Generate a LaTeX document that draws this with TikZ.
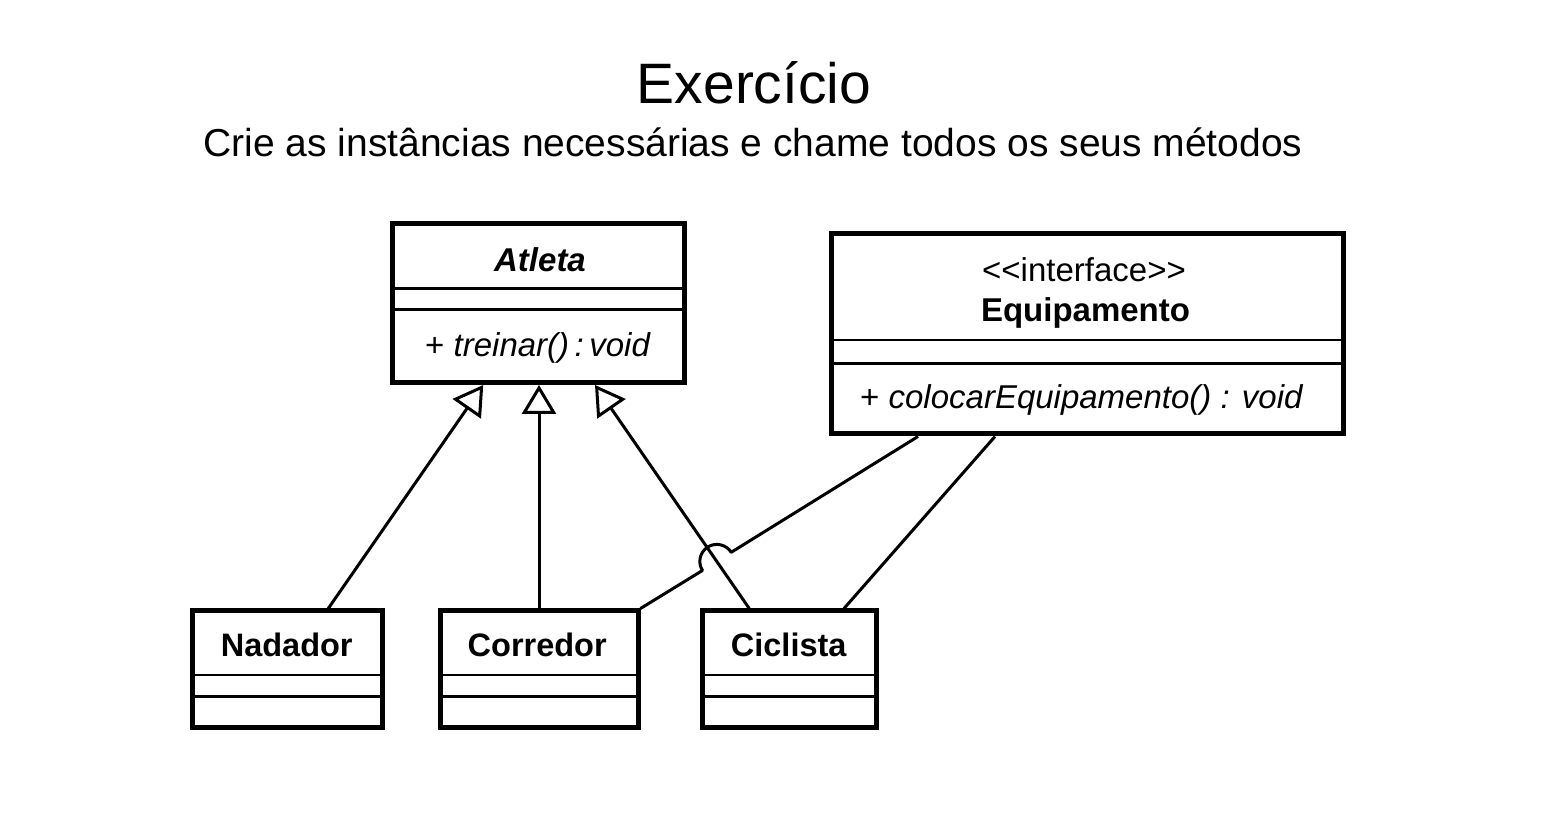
\documentclass[tikz,border=0pt]{standalone}
\usepackage{fontspec}
\setmainfont{Liberation Sans}
\usetikzlibrary{arrows.meta,calc}
\begin{document}
\begin{tikzpicture}[x=1pt,y=1pt,
  cls/.style={draw, line width=5pt, inner sep=0pt, fill=white},
  comp/.style={line width=2.5pt},
  conn/.style={line width=3pt, line join=round},
  gen/.style={conn, -{Triangle[open,fill=white,length=29pt,width=34pt]}},
  uml/.style={font=\fontsize{33}{36}\selectfont, inner sep=0pt, anchor=base},
  low/.style={font=\fontsize{32.5}{36}\selectfont\bfseries, inner sep=0pt, anchor=base},
]
\useasboundingbox[fill=white] (0,0) rectangle (1563,816);

% titles
\node[inner sep=0pt, anchor=base, font=\fontsize{57}{60}\selectfont] (title) at (754,712) {Exercício};
\node[inner sep=0pt, anchor=base, font=\fontsize{39}{42}\selectfont] (sub) at (753,659) {Crie as instâncias necessárias e chame todos os seus métodos};

% class boxes
\node[cls, minimum width=291.5pt, minimum height=158.5pt] (atleta) at (538.25,512.75) {};
\node[cls, minimum width=512pt, minimum height=200pt] (equip) at (1087,482) {};
\node[cls, minimum width=190.5pt, minimum height=116.5pt] (nadador) at (287.25,146.75) {};
\node[cls, minimum width=198pt, minimum height=116.5pt] (corredor) at (539,146.75) {};
\node[cls, minimum width=173.5pt, minimum height=116.5pt] (ciclista) at (789.25,146.75) {};

% compartments
\foreach \n/\a/\b in {atleta/66.8/87.8, equip/108.5/131.8, nadador/66.5/88.2, corredor/66.5/88.2, ciclista/66.5/88.2}{
  \draw[comp] ([yshift=-\a pt]\n.north west) -- ([yshift=-\a pt]\n.north east);
  \draw[comp] ([yshift=-\b pt]\n.north west) -- ([yshift=-\b pt]\n.north east);
}

% texts
\node[uml, font=\fontsize{33}{36}\selectfont\bfseries\itshape] (atletaname) at (540,544.3) {Atleta};
\node[uml, font=\fontsize{33}{36}\selectfont] (atletaop) at (538,459.3) {+ \textit{treinar()\,:\,void}};
\node[uml] (stereo) at (1084,534.3) {<{}<interface>{}>};
\node[uml, font=\fontsize{33}{36}\selectfont\bfseries] (equipname) at (1085.5,494.3) {Equipamento};
\node[uml, anchor=base west] (equipop) at (860,407.7) {+ \textit{colocarEquipamento() : void}};
\node[low] (nadadorname) at (286.7,159.3) {Nadador};
\node[low] (corredorname) at (537.2,159.3) {Corredor};
\node[low] (ciclistaname) at (788.7,159.3) {Ciclista};

% connection points
\coordinate (a1) at ([xshift=-55pt]atleta.south);
\coordinate (a3) at ([xshift=56.75pt]atleta.south);
\coordinate (n1) at ([xshift=41pt]nadador.north);
\coordinate (c1) at ([xshift=-40pt]ciclista.north);
\coordinate (c2) at ([xshift=54.75pt]ciclista.north);
\coordinate (e1) at ([xshift=-169pt]equip.south);
\coordinate (e2) at ([xshift=-92pt]equip.south);
\coordinate (cne) at (corredor.north east);
\coordinate (hop) at (intersection of e1--cne and c1--a3);

% generalizations
\draw[gen] (n1) -- (a1);
\draw[gen] (corredor.north) -- (corredor.north |- atleta.south);
\draw[gen] (c1) -- (a3);

% realizations
\draw[conn] (e1) -- ($(hop)!17pt!(e1)$) arc[start angle=32.3, end angle=212.3, radius=17pt] -- (cne);
\draw[conn] (e2) -- (c2);
\end{tikzpicture}
\end{document}
